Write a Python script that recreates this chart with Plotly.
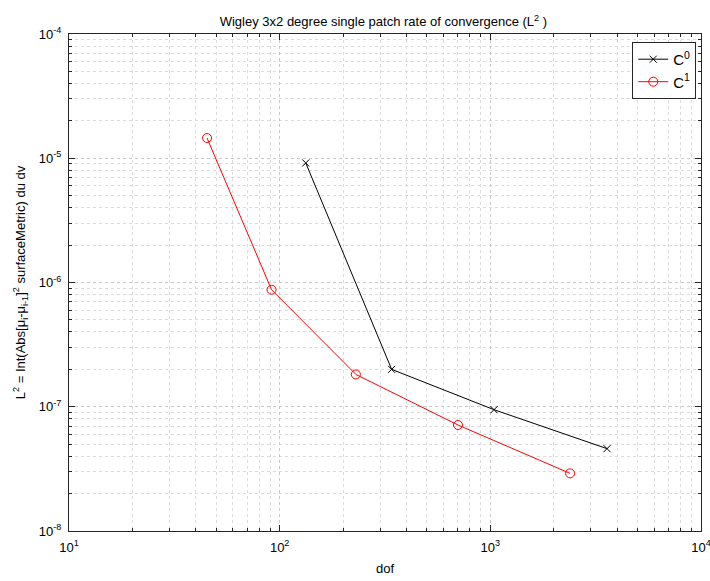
import plotly.graph_objects as go

# Data
dof_c0 = [133, 340, 1041, 3580]
err_c0 = [9.16e-6, 2.0e-7, 9.47e-8, 4.60e-8]
dof_c1 = [45.2, 91.5, 230, 702, 2390]
err_c1 = [1.455e-5, 8.75e-7, 1.82e-7, 7.13e-8, 2.91e-8]

x_tickvals = [1e1, 1e2, 1e3, 1e4]
x_ticktext = ["10<sup>1</sup>", "10<sup>2</sup>", "10<sup>3</sup>", "10<sup>4</sup>"]
y_tickvals = [1e-8, 1e-7, 1e-6, 1e-5, 1e-4]
y_ticktext = ["10<sup>-8</sup>", "10<sup>-7</sup>", "10<sup>-6</sup>", "10<sup>-5</sup>", "10<sup>-4</sup>"]

def minor_vals(lo, hi):
    vals = []
    for e in range(lo, hi):
        for m in range(2, 10):
            vals.append(m * 10.0 ** e)
    return vals

FONT = "Liberation Sans, Arial, Helvetica, sans-serif"
GRID = "#c9c9c9"
AX = "#262626"

fig = go.Figure()
fig.add_trace(go.Scatter(
    x=dof_c0, y=err_c0, mode="lines+markers", name="C<sup>0</sup>",
    line=dict(color="#000000", width=1),
    marker=dict(symbol="x-thin", size=7, line=dict(color="#000000", width=1))))
fig.add_trace(go.Scatter(
    x=dof_c1, y=err_c1, mode="lines+markers", name="C<sup>1</sup>",
    line=dict(color="#ff0000", width=1),
    marker=dict(symbol="circle-open", size=9, color="#ff0000", line=dict(color="#ff0000", width=1))))

axis_common = dict(
    type="log", showline=True, linecolor=AX, linewidth=1, mirror="allticks",
    ticks="inside", ticklen=6, tickcolor=AX, tickwidth=1,
    showgrid=True, gridcolor=GRID, griddash="dot", gridwidth=1,
    zeroline=False, tickfont=dict(family=FONT, size=13, color="#000"),
    ticklabeloverflow="allow", automargin=False,
)

fig.update_xaxes(
    **axis_common, range=[1, 4], tickmode="array", tickvals=x_tickvals, ticktext=x_ticktext,
    ticklabelstandoff=4,
    minor=dict(tickmode="array", tickvals=minor_vals(1, 4), ticks="inside", ticklen=3,
               tickcolor=AX, showgrid=True, gridcolor="#dcdcdc", griddash="dot", gridwidth=1),
    title=dict(text="dof", font=dict(family=FONT, size=13, color="#000"), standoff=10),
)
fig.update_yaxes(
    **axis_common, range=[-8, -4], tickmode="array", tickvals=y_tickvals, ticktext=y_ticktext,
    ticklabelstandoff=4,
    minor=dict(tickmode="array", tickvals=minor_vals(-8, -4), ticks="inside", ticklen=3,
               tickcolor=AX, showgrid=True, gridcolor="#dcdcdc", griddash="dot", gridwidth=1),
    title=dict(text="L<sup>2</sup> = Int(Abs[\u03bc<sub>i</sub>-\u03bc<sub>i-1</sub>]<sup>2</sup> surfaceMetric) du dv",
               font=dict(family=FONT, size=13, color="#000"), standoff=10),
)

fig.update_layout(
    width=710, height=581,
    margin=dict(l=69, r=9, t=34, b=50, autoexpand=False),
    paper_bgcolor="white", plot_bgcolor="white",
    title=dict(text="Wigley 3x2 degree single patch rate of convergence (L<sup>2</sup> )",
               x=0.54, xanchor="center", y=0.963, yanchor="middle",
               font=dict(family=FONT, size=13, color="#000")),
    font=dict(family=FONT, size=13, color="#000"),
    showlegend=True,
    legend=dict(x=0.9925, xanchor="right", y=0.984, yanchor="top",
                bgcolor="white", bordercolor=AX, borderwidth=1,
                font=dict(family=FONT, size=15, color="#000"),
                tracegroupgap=0),
)

fig.write_html("out.html")
